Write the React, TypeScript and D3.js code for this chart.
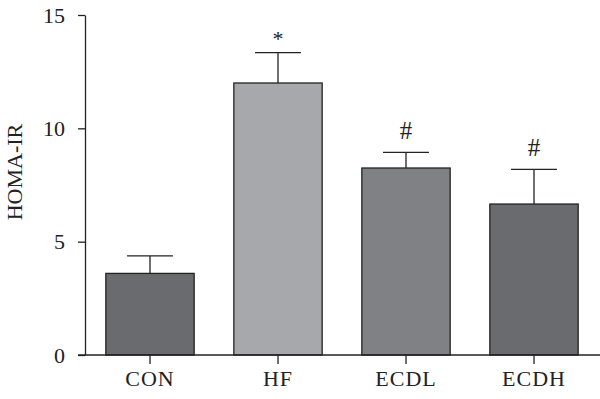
import * as React from 'react';
import {useEffect, useRef} from 'react';
import * as d3 from 'd3';

const width = 600;
const height = 399;

const groups = ['CON', 'HF', 'ECDL', 'ECDH'];
const means = [3.6, 12.0, 8.25, 6.66];
const errors = [0.77, 1.34, 0.69, 1.53];
const marks = ['', '*', '#', '#'];
const fills = ['#6a6b6f', '#a7a8ab', '#808185', '#6a6b6f'];
const yTicks = [0, 5, 10, 15];

const font = '"Liberation Serif", "Times New Roman", serif';

export default function App() {
  const ref = useRef<SVGSVGElement>(null);

  useEffect(() => {
    const svg = d3.select(ref.current);
    svg.selectAll('*').remove();

    const x = d3.scaleBand<string>()
      .domain(groups)
      .range([86, 598])
      .paddingInner(0.31)
      .paddingOuter(0.155);

    const y = d3.scaleLinear().domain([0, 15]).range([355, 15]);

    const g = svg.append('g');

    // bars
    g.selectAll('rect.bar')
      .data(groups)
      .join('rect')
      .attr('class', 'bar')
      .attr('x', d => x(d)!)
      .attr('y', (d, i) => y(means[i]))
      .attr('width', x.bandwidth())
      .attr('height', (d, i) => y(0) - y(means[i]))
      .attr('fill', (d, i) => fills[i])
      .attr('stroke', '#222')
      .attr('stroke-width', 1.3);

    // error bars (upper only)
    const capHalf = x.bandwidth() * 0.26;
    groups.forEach((d, i) => {
      const cx = x(d)! + x.bandwidth() / 2;
      const top = y(means[i] + errors[i]);
      g.append('line')
        .attr('x1', cx).attr('x2', cx)
        .attr('y1', y(means[i])).attr('y2', top)
        .attr('stroke', '#222').attr('stroke-width', 1.3);
      g.append('line')
        .attr('x1', cx - capHalf).attr('x2', cx + capHalf)
        .attr('y1', top).attr('y2', top)
        .attr('stroke', '#222').attr('stroke-width', 1.3);
      if (marks[i]) {
        g.append('text')
          .attr('x', cx)
          .attr('y', top - (marks[i] === '*' ? 7 : 13))
          .attr('text-anchor', 'middle')
          .style('font', `${marks[i] === '*' ? 22 : 25}px ${font}`)
          .attr('fill', '#222')
          .text(marks[i]);
      }
    });

    // y axis
    const yAxis = svg.append('g')
      .attr('transform', 'translate(85,0)')
      .call(d3.axisLeft(y).tickValues(yTicks).tickSize(7).tickSizeOuter(0).tickPadding(13));
    yAxis.select('.domain').attr('stroke', '#222').attr('stroke-width', 1.3);
    yAxis.selectAll('.tick line').attr('stroke', '#222').attr('stroke-width', 1.3);
    yAxis.selectAll('.tick text')
      .style('font', `22px ${font}`)
      .attr('fill', '#222');

    // x axis
    const xAxis = svg.append('g')
      .attr('transform', 'translate(0,355)')
      .call(d3.axisBottom(x).tickSize(9).tickSizeOuter(0).tickPadding(6));
    xAxis.select('.domain').remove();
    xAxis.append('line')
      .attr('x1', 78).attr('x2', 600)
      .attr('y1', 0).attr('y2', 0)
      .attr('stroke', '#222').attr('stroke-width', 1.3);
    xAxis.selectAll('.tick line').attr('stroke', '#222').attr('stroke-width', 1.3);
    xAxis.selectAll('.tick text')
      .style('font', `22px ${font}`)
      .style('letter-spacing', '1px')
      .attr('fill', '#222');

    // y label
    svg.append('text')
      .attr('transform', 'translate(22,172) rotate(-90)')
      .attr('text-anchor', 'middle')
      .style('font', `22px ${font}`)
      .attr('fill', '#222')
      .text('HOMA-IR');
  }, []);

  return (
    <svg ref={ref} width={width} height={height}
      style={{position: 'absolute', left: 0, top: 0, background: '#fff'}} />
  );
}
